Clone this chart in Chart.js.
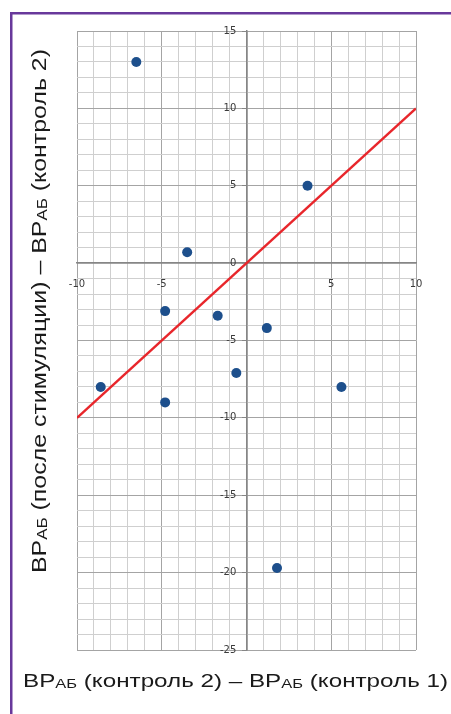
<!DOCTYPE html>
<html>
<head>
<meta charset="utf-8">
<script src="https://cdn.jsdelivr.net/npm/chart.js@4.4.1/dist/chart.umd.min.js"></script>
<style>
  html, body { margin: 0; padding: 0; background: #ffffff; }
  #c { display: block; }
</style>
</head>
<body>
<canvas id="c" width="451" height="714"></canvas>
<script>
// ---- data ----
const pointX = [-6.5, -3.5, 3.6, -4.8, -1.7, 1.2, -0.6, -8.6, -4.8, 5.6, 1.8];
const pointY = [13, 0.7, 5, -3.1, -3.4, -4.2, -7.1, -8, -9, -8, -19.7];
const lineX = [-10, 10];
const lineY = [-10, 10];
const xTickLabels = [-10, -5, 5, 10];
const yTickLabels = [15, 10, 5, 0, -5, -10, -15, -20, -25];
const xTitleParts = ['ВР', 'АБ', ' (контроль 2) – ВР', 'АБ', ' (контроль 1)'];
const xTitleSub = [false, true, false, true, false];
const yTitleParts = ['ВР', 'АБ', ' (после стимуляции) – ВР', 'АБ', ' (контроль 2)'];
const yTitleSub = [false, true, false, true, false];

const scatterData = pointX.map((x, i) => ({ x: x, y: pointY[i] }));
const lineData = lineX.map((x, i) => ({ x: x, y: lineY[i] }));

function drawParts(ctx, parts, subs, size, subScale, targetLen) {
  let w = 0;
  parts.forEach((p, i) => {
    ctx.font = (subs[i] ? size * subScale : size) + 'px "Liberation Sans", Arial, sans-serif';
    w += ctx.measureText(p).width;
  });
  const sx = targetLen / w;
  ctx.scale(sx, 1);
  let x = 0;
  parts.forEach((p, i) => {
    ctx.font = (subs[i] ? size * subScale : size) + 'px "Liberation Sans", Arial, sans-serif';
    ctx.fillText(p, x, subs[i] ? 1 : 0);
    x += ctx.measureText(p).width;
  });
}

const decorPlugin = {
  id: 'decor',
  afterDraw(chart) {
    const ctx = chart.ctx;
    ctx.save();
    // frame
    ctx.fillStyle = '#68389b';
    ctx.fillRect(10, 12, 451, 2.5);
    ctx.fillRect(10, 12, 2.5, 714);
    ctx.fillStyle = '#1a1a1a';
    ctx.textBaseline = 'alphabetic';
    ctx.textAlign = 'left';
    // x title
    ctx.save();
    ctx.translate(23, 687);
    drawParts(ctx, xTitleParts, xTitleSub, 19, 0.68, 425);
    ctx.restore();
    // y title
    ctx.save();
    ctx.translate(46, 573);
    ctx.rotate(-Math.PI / 2);
    drawParts(ctx, yTitleParts, yTitleSub, 21, 0.68, 524);
    ctx.restore();
    ctx.restore();
  }
};

function gridColor(v) {
  if (v === 0) return '#868686';
  return (v % 5 === 0) ? '#a4a4a4' : '#cfcfcf';
}

const tickFont = { family: '"DejaVu Sans"', size: 10 };

new Chart(document.getElementById('c'), {
  type: 'scatter',
  data: {
    datasets: [
      {
        data: lineData,
        showLine: true,
        borderColor: '#e8262b',
        borderWidth: 2.5,
        pointRadius: 0,
        fill: false
      },
      {
        data: scatterData,
        backgroundColor: '#1d4f8c',
        borderWidth: 0,
        pointRadius: 5
      }
    ]
  },
  options: {
    responsive: false,
    animation: false,
    devicePixelRatio: 1,
    layout: { padding: { left: 77, right: 35, top: 31, bottom: 64 } },
    plugins: { legend: { display: false }, tooltip: { enabled: false } },
    scales: {
      x: {
        type: 'linear',
        min: -10, max: 10,
        position: { y: 0 },
        border: { display: true, color: '#868686', width: 1.5 },
        grid: {
          drawTicks: false,
          color: (c) => gridColor(c.tick.value),
          lineWidth: (c) => c.tick.value === 0 ? 1.5 : 1
        },
        ticks: {
          stepSize: 1,
          autoSkip: false,
          maxRotation: 0,
          padding: 15,
          color: '#3a3a3a',
          font: tickFont,
          callback: (v) => xTickLabels.includes(v) ? String(v) : ''
        }
      },
      y: {
        type: 'linear',
        min: -25, max: 15,
        position: { x: 0 },
        border: { display: true, color: '#868686', width: 1.5 },
        grid: {
          drawTicks: true,
          tickLength: 4,
          tickColor: (c) => (c.tick.value % 5 === 0) ? '#868686' : 'rgba(0,0,0,0)',
          color: (c) => gridColor(c.tick.value),
          lineWidth: (c) => c.tick.value === 0 ? 1.5 : 1
        },
        ticks: {
          stepSize: 1,
          autoSkip: false,
          display: false
        }
      },
      yLabels: {
        type: 'linear',
        axis: 'y',
        min: -25, max: 15,
        position: { x: -0.6 },
        border: { display: false },
        grid: { display: false },
        ticks: {
          stepSize: 5,
          autoSkip: false,
          color: '#3a3a3a',
          font: tickFont,
          callback: (v) => yTickLabels.includes(v) ? String(v) : ''
        }
      }
    }
  },
  plugins: [decorPlugin]
});
</script>
</body>
</html>
